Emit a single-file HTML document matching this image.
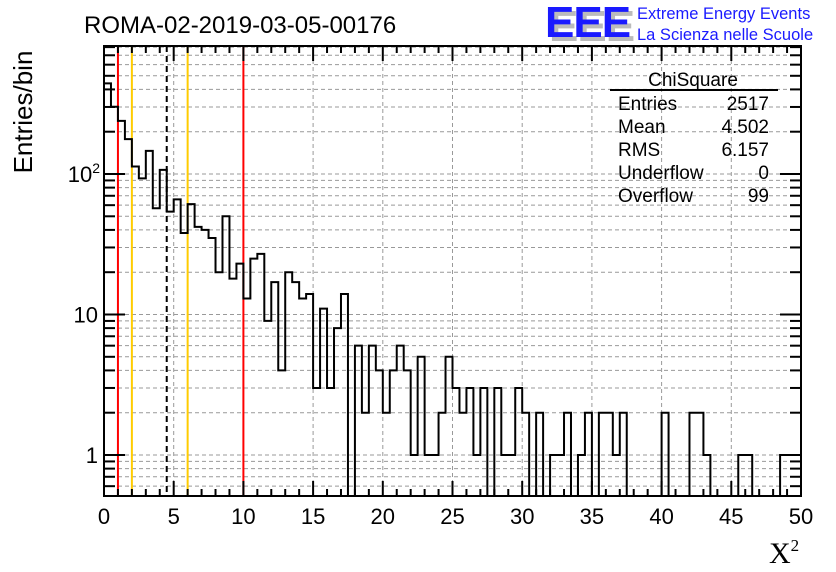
<!DOCTYPE html>
<html><head><meta charset="utf-8"><style>
html,body{margin:0;padding:0;background:#fff;}
svg{display:block;font-family:"Liberation Sans",sans-serif;}
</style></head><body>
<svg id="chart" width="836" height="572" viewBox="0 0 836 572">
<g id="grid"></g>
<g id="vlines"></g>
<path id="hist" fill="none" stroke="#000" stroke-width="2"/>
<g id="axes"></g>
<text x="84" y="33" font-size="24">ROMA-02-2019-03-05-00176</text>
<text transform="translate(32,112) rotate(-90)" text-anchor="middle" font-size="26">Entries/bin</text>
<text x="769" y="563" font-family="Liberation Serif,serif" font-size="30">X<tspan dy="-12" font-size="17">2</tspan></text>
<g>
<text x="549" y="41" font-size="44" font-weight="bold" fill="#bbb" letter-spacing="-1">EEE</text>
<text x="545" y="37" font-size="44" font-weight="bold" fill="#1a1aff" letter-spacing="-1">EEE</text>
<text x="637" y="19" font-size="16.5" fill="#1a1aff">Extreme Energy Events</text>
<text x="637" y="40" font-size="16.5" fill="#1a1aff">La Scienza nelle Scuole</text>
</g>
<g id="stats" font-size="19">
<text x="693" y="86" text-anchor="middle">ChiSquare</text>
<line x1="610" y1="90" x2="778" y2="90" stroke="#000" stroke-width="2"/>
</g>
</svg>
<script>
const binValues=[442,301,239,177,113,93,146,57,107,54,66,38,61,42,40,35,20,50,18,23,13,25,27,9,17,4,20,17,13,14,3,11,3,8,14,0,6,2,6,4,2,4,6,4,1,5,1,1,2,5,3,2,3,1,3,0,3,1,1,3,2,0,2,0,1,1,2,0,1,2,0,2,2,1,2,0,0,0,0,0,2,0,0,0,2,2,1,0,0,0,0,1,1,0,0,0,0,1,1,1];
const xTickLabels=[0,5,10,15,20,25,30,35,40,45,50];
const yMajorTicks=[1,10,100];
const yTickLabels=["1","10","10²"];
const cutLines=[1,2,4.5,6,10];
const cutColors=["#ff0000","#ffcc00","#000","#ffcc00","#ff0000"];
const statLabels=["Entries","Mean","RMS","Underflow","Overflow"];
const statValues=["2517","4.502","6.157","0","99"];

const L=104,R=801,T=46,B=496,XMIN=0,XMAX=50,YMIN=Math.pow(10,-41/140.5),YMAX=Math.pow(10,409/140.5);
const X=v=>L+(v-XMIN)/(XMAX-XMIN)*(R-L);
const Y=v=>B-(Math.log10(v)-Math.log10(YMIN))/(Math.log10(YMAX)-Math.log10(YMIN))*(B-T);
const NS="http://www.w3.org/2000/svg";
function mk(tag,attrs,parent){const e=document.createElementNS(NS,tag);for(const k in attrs)e.setAttribute(k,attrs[k]);parent.appendChild(e);return e;}
const grid=document.getElementById('grid'),axes=document.getElementById('axes'),vl=document.getElementById('vlines');
const yAll=[];
for(let d=-1;d<=2;d++)for(let m=1;m<=9;m++){const v=m*Math.pow(10,d);if(v>YMIN&&v<YMAX)yAll.push(v);}
yAll.forEach(v=>{
 const g=mk('line',{x1:L,x2:R,y1:Y(v),y2:Y(v),stroke:'#999','stroke-dasharray':'4,3','stroke-width':1},grid);
 
 
 const major=yMajorTicks.includes(Math.round(v*1000)/1000);
 const len=major?21:11;
 const t1=mk('line',{x1:L,x2:L+len,y1:Y(v),y2:Y(v),stroke:'#000','stroke-width':2},axes);
 
 
 const t2=mk('line',{x1:R,x2:R-len,y1:Y(v),y2:Y(v),stroke:'#000','stroke-width':2},axes);
 
 
});
yMajorTicks.forEach((v,i)=>{
 const t=mk('text',{x:L-6,y:Y(v)+8,'text-anchor':'end','font-size':22},axes);
 
 
 if(i==2){t.textContent='10';const s=mk('tspan',{dy:-9,'font-size':14},t);s.textContent='2';t.setAttribute('x',L-4);}
 else t.textContent=yTickLabels[i];
});
for(let x=XMIN;x<=XMAX;x++){
 const major=x%5===0;
 if(major&&x>XMIN&&x<XMAX){const g=mk('line',{x1:X(x),x2:X(x),y1:T,y2:B,stroke:'#999','stroke-dasharray':'4,3','stroke-width':1},grid);
 
 }
 const len=major?15:7;
 const a=mk('line',{x1:X(x),x2:X(x),y1:B,y2:B-len,stroke:'#000','stroke-width':2},axes);
 
 
 const b=mk('line',{x1:X(x),x2:X(x),y1:T,y2:T+len,stroke:'#000','stroke-width':2},axes);
 
 
}
xTickLabels.forEach(v=>{
 const t=mk('text',{x:X(v),y:B+28,'text-anchor':'middle','font-size':22},axes);
 
 
 t.textContent=v;
});
const fr=mk('rect',{x:L,y:T,width:R-L,height:B-T,fill:'none',stroke:'#000','stroke-width':2},axes);


cutLines.forEach((v,i)=>{
 const a={x1:X(v),x2:X(v),y1:T,y2:B,stroke:cutColors[i],'stroke-width':2};
 if(v===4.5)a['stroke-dasharray']='6,4';
 const l=mk('line',a,vl);
 
 
});
const bw=(XMAX-XMIN)/binValues.length;
let d='M'+X(0)+','+B;
binValues.forEach((v,i)=>{
 const y=v>0?Math.max(T,Y(v)):B;
 d+=' L'+X(i*bw)+','+y+' L'+X((i+1)*bw)+','+y;
});
d+=' L'+X(XMAX)+','+B;
document.getElementById('hist').setAttribute('d',d);
const st=document.getElementById('stats');
statLabels.forEach((s,i)=>{
 const y=110+i*23;
 const a=mk('text',{x:618,y:y},st);
 
 
 a.textContent=s;
 const b=mk('text',{x:769,y:y,'text-anchor':'end'},st);
 
 
 b.textContent=statValues[i];
});
</script>
</body></html>
